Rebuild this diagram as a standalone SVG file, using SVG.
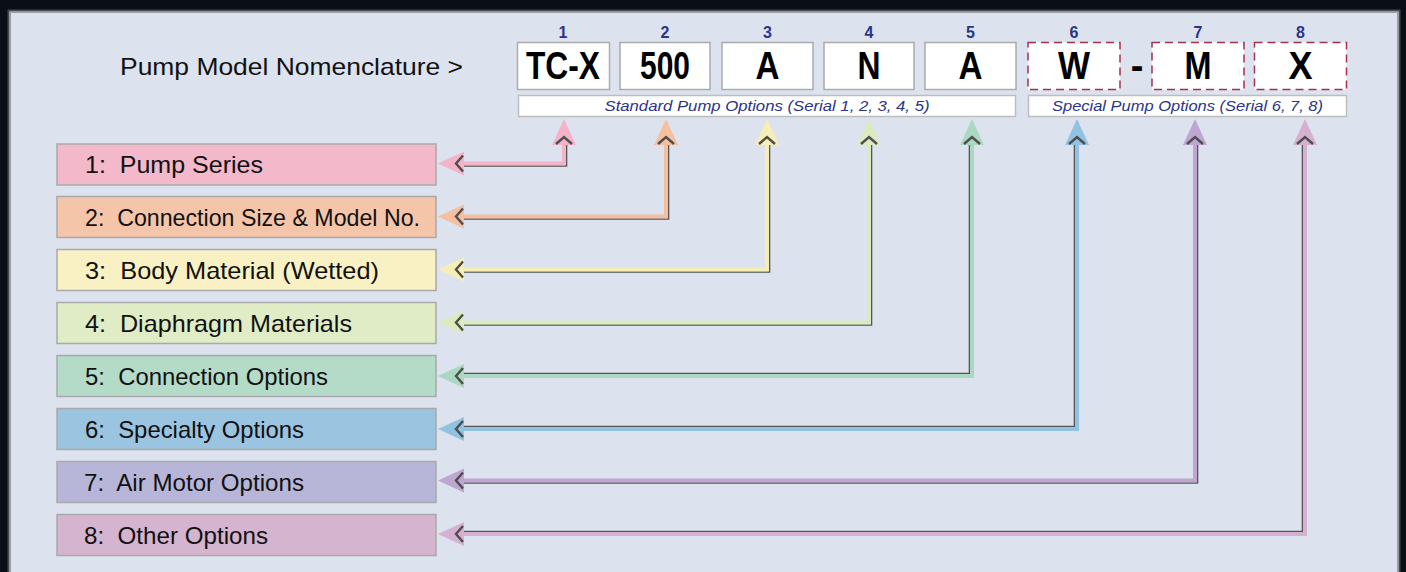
<svg xmlns="http://www.w3.org/2000/svg" xmlns:xlink="http://www.w3.org/1999/xlink" width="1406" height="572" viewBox="0 0 1406 572">
<style>
.lbl{font-family:"Liberation Sans",Arial,sans-serif;font-size:24px;fill:#111;white-space:pre}
.code{font-family:"Liberation Sans",Arial,sans-serif;font-size:38px;font-weight:bold;fill:#000;text-anchor:middle}
.num{font-family:"Liberation Sans",Arial,sans-serif;font-size:16px;font-weight:bold;fill:#2b3488;text-anchor:middle}
.opt{font-family:"Liberation Sans",Arial,sans-serif;font-size:14.5px;font-style:italic;fill:#2b3488;text-anchor:middle}
.box{stroke:#a9a9a9;stroke-width:1.5}
.cbox{fill:#fff;stroke:#ababab;stroke-width:1.5}
.dbox{fill:#fff;stroke:#a3324f;stroke-width:1.5;stroke-dasharray:8 5}
.bar{fill:#fff;stroke:#bdbdbd;stroke-width:1.5}
.sh{fill:none;stroke:#555;stroke-width:1.6}
.ln{fill:none;stroke-width:4}
</style>
<defs>
<g id="ah">
<polygon points="0,0 26,-12 26,12" fill="currentColor"/>
<polyline points="25,-8 18,0 25,8" fill="none" stroke="#4d4d4d" stroke-width="2.4"/>
</g>
</defs>
<rect x="0" y="0" width="1406" height="572" fill="#0a0f17"/>
<rect x="8.5" y="10.5" width="1391" height="580" fill="#dce3ef" stroke="#4a4a4a" stroke-width="2"/>
<rect x="10.5" y="12.5" width="1387" height="580" fill="none" stroke="#9aa0a8" stroke-width="1"/>

<g id="title"><text class="lbl" x="120" y="75" font-size="26.5" textLength="343" lengthAdjust="spacingAndGlyphs">Pump Model Nomenclature &gt;</text></g>

<g id="code1"><text class="num" x="563" y="38">1</text><rect class="cbox" x="517.5" y="42.5" width="92" height="47"/><text class="code" x="563" y="79" textLength="74" lengthAdjust="spacingAndGlyphs">TC-X</text></g>
<g id="code2"><text class="num" x="665" y="38">2</text><rect class="cbox" x="620" y="42.5" width="90" height="47"/><text class="code" x="665" y="79" textLength="50" lengthAdjust="spacingAndGlyphs">500</text></g>
<g id="code3"><text class="num" x="767.5" y="38">3</text><rect class="cbox" x="722" y="42.5" width="91" height="47"/><text class="code" x="767.5" y="79" textLength="24" lengthAdjust="spacingAndGlyphs">A</text></g>
<g id="code4"><text class="num" x="869" y="38">4</text><rect class="cbox" x="824" y="42.5" width="90" height="47"/><text class="code" x="869" y="79" textLength="23" lengthAdjust="spacingAndGlyphs">N</text></g>
<g id="code5"><text class="num" x="970.5" y="38">5</text><rect class="cbox" x="925" y="42.5" width="91" height="47"/><text class="code" x="970.5" y="79" textLength="24" lengthAdjust="spacingAndGlyphs">A</text></g>
<g id="code6"><text class="num" x="1074" y="38">6</text><rect class="dbox" x="1028" y="42.5" width="92" height="47"/><text class="code" x="1074" y="79" textLength="32" lengthAdjust="spacingAndGlyphs">W</text></g>
<g id="dash"><text class="code" x="1137" y="79">-</text></g>
<g id="code7"><text class="num" x="1198" y="38">7</text><rect class="dbox" x="1152" y="42.5" width="92" height="47"/><text class="code" x="1198" y="79" textLength="27" lengthAdjust="spacingAndGlyphs">M</text></g>
<g id="code8"><text class="num" x="1300.5" y="38">8</text><rect class="dbox" x="1254.5" y="42.5" width="92" height="47"/><text class="code" x="1300.5" y="79" textLength="24" lengthAdjust="spacingAndGlyphs">X</text></g>

<g id="standard"><rect class="bar" x="518.5" y="95.5" width="497" height="21"/><text class="opt" x="767" y="110.5" textLength="325" lengthAdjust="spacingAndGlyphs">Standard Pump Options (Serial 1, 2, 3, 4, 5)</text></g>
<g id="special"><rect class="bar" x="1028.5" y="95.5" width="318" height="21"/><text class="opt" x="1187.5" y="110.5" textLength="271" lengthAdjust="spacingAndGlyphs">Special Pump Options (Serial 6, 7, 8)</text></g>

<g id="opt1"><rect class="box" x="57" y="144" width="379" height="41" fill="#f4b8cb"/><text class="lbl" x="85" y="173" xml:space="preserve" textLength="178" lengthAdjust="spacingAndGlyphs">1:  Pump Series</text></g>
<g id="opt2"><rect class="box" x="57" y="196.5" width="379" height="41" fill="#f5c5aa"/><text class="lbl" x="85" y="225.5" xml:space="preserve" textLength="335" lengthAdjust="spacingAndGlyphs">2:  Connection Size &amp; Model No.</text></g>
<g id="opt3"><rect class="box" x="57" y="249.5" width="379" height="41" fill="#f9f1c3"/><text class="lbl" x="85" y="278.5" xml:space="preserve" textLength="294" lengthAdjust="spacingAndGlyphs">3:  Body Material (Wetted)</text></g>
<g id="opt4"><rect class="box" x="57" y="302.5" width="379" height="41" fill="#e0ecc6"/><text class="lbl" x="85" y="331.5" xml:space="preserve" textLength="267" lengthAdjust="spacingAndGlyphs">4:  Diaphragm Materials</text></g>
<g id="opt5"><rect class="box" x="57" y="355.5" width="379" height="41" fill="#b3dbc8"/><text class="lbl" x="85" y="384.5" xml:space="preserve" textLength="243" lengthAdjust="spacingAndGlyphs">5:  Connection Options</text></g>
<g id="opt6"><rect class="box" x="57" y="408.5" width="379" height="41" fill="#9ac4e0"/><text class="lbl" x="85" y="437.5" xml:space="preserve" textLength="219" lengthAdjust="spacingAndGlyphs">6:  Specialty Options</text></g>
<g id="opt7"><rect class="box" x="57" y="461.5" width="379" height="41" fill="#b8b6d8"/><text class="lbl" x="84" y="490.5" xml:space="preserve" textLength="220" lengthAdjust="spacingAndGlyphs">7:  Air Motor Options</text></g>
<g id="opt8"><rect class="box" x="57" y="514.5" width="379" height="41" fill="#d5b4d0"/><text class="lbl" x="84" y="543.5" xml:space="preserve" textLength="184" lengthAdjust="spacingAndGlyphs">8:  Other Options</text></g>

<g id="connectors">
<g id="c1" color="#f4b3c8"><path class="sh" d="M566.5,138 V166 H455"/><path class="ln" stroke="#f4b3c8" d="M564,135 V163.5 H455"/><use xlink:href="#ah" transform="translate(438,163.5)"/><use xlink:href="#ah" transform="translate(564,119) rotate(90)"/></g>
<g id="c2" color="#f6bf9f"><path class="sh" d="M668.5,138 V219 H455"/><path class="ln" stroke="#f6bf9f" d="M666,135 V216.5 H455"/><use xlink:href="#ah" transform="translate(438,216.5)"/><use xlink:href="#ah" transform="translate(666,119) rotate(90)"/></g>
<g id="c3" color="#f7eeb5"><path class="sh" d="M769.5,138 V272 H455"/><path class="ln" stroke="#f7eeb5" d="M767,135 V269.5 H455"/><use xlink:href="#ah" transform="translate(438,269.5)"/><use xlink:href="#ah" transform="translate(767,119) rotate(90)"/></g>
<g id="c4" color="#dcebbd"><path class="sh" d="M871.5,138 V325 H455"/><path class="ln" stroke="#dcebbd" d="M869,135 V322.5 H455"/><use xlink:href="#ah" transform="translate(438,322.5)"/><use xlink:href="#ah" transform="translate(869,119) rotate(90)"/></g>
<g id="c5" color="#aad8c0"><path class="sh" d="M969.5,138 V373.5 H455"/><path class="ln" stroke="#aad8c0" d="M972,135 V376 H455"/><use xlink:href="#ah" transform="translate(438,376)"/><use xlink:href="#ah" transform="translate(972,119) rotate(90)"/></g>
<g id="c6" color="#92c2e2"><path class="sh" d="M1074.5,138 V426.5 H455"/><path class="ln" stroke="#92c2e2" d="M1077,135 V429 H455"/><use xlink:href="#ah" transform="translate(438,429)"/><use xlink:href="#ah" transform="translate(1077,119) rotate(90)"/></g>
<g id="c7" color="#bfa5d2"><path class="sh" d="M1197.5,138 V483 H455"/><path class="ln" stroke="#bfa5d2" d="M1195,135 V480.5 H455"/><use xlink:href="#ah" transform="translate(438,480.5)"/><use xlink:href="#ah" transform="translate(1195,119) rotate(90)"/></g>
<g id="c8" color="#d6b0d0"><path class="sh" d="M1302.5,138 V531.5 H455"/><path class="ln" stroke="#d6b0d0" d="M1305,135 V534 H455"/><use xlink:href="#ah" transform="translate(438,534)"/><use xlink:href="#ah" transform="translate(1305,119) rotate(90)"/></g>
</g>
</svg>
